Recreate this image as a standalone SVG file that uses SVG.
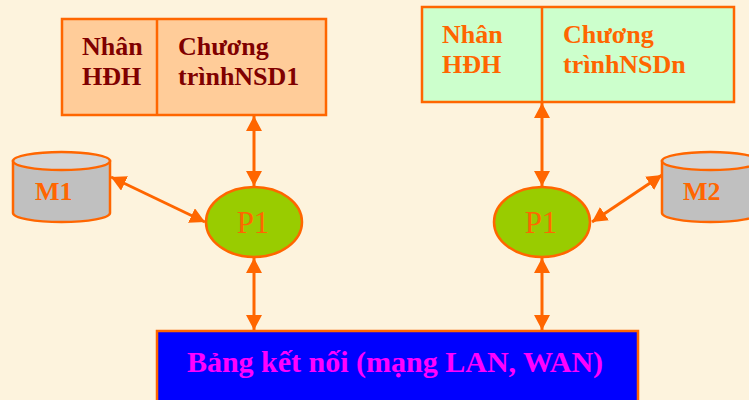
<svg xmlns="http://www.w3.org/2000/svg" width="749" height="400" viewBox="0 0 749 400">
  <style>
    .bx { stroke: #FF6600; stroke-width: 2.5; }
    .t { font-family: "Liberation Serif", "Times New Roman", serif; font-weight: bold; font-size: 26px; }
    .dark { fill: #800000; }
    .org { fill: #FF6600; }
    .cyl { fill: #C0C0C0; stroke: #FF6600; stroke-width: 2.5; }
    .cyltop { fill: #D4D4D4; stroke: #FF6600; stroke-width: 2.5; }
    .proc { fill: #99CC00; stroke: #FF6600; stroke-width: 2.5; }
    .pl { font-family: "Liberation Serif", "Times New Roman", serif; font-size: 31px; fill: #FF6600; }
    .conn { stroke: #FF6600; stroke-width: 3; fill: none; marker-start: url(#ah); marker-end: url(#ah); }
  </style>
  <defs>
    <marker id="ah" viewBox="0 0 15 16" refX="15" refY="8" markerWidth="15" markerHeight="16" orient="auto-start-reverse" markerUnits="userSpaceOnUse">
      <path d="M0,0 L15,8 L0,16 Z" fill="#FF6600"/>
    </marker>
  </defs>

  <rect width="749" height="400" fill="#FDF3DD"/>

  <g id="box-nsd1">
    <rect class="bx" x="62" y="19" width="264" height="96" fill="#FFCC99"/>
    <line class="bx" x1="157" y1="19" x2="157" y2="115"/>
    <text class="t dark" x="82" y="55">Nhân</text>
    <text class="t dark" x="82" y="85">HĐH</text>
    <text class="t dark" x="178" y="55">Chương</text>
    <text class="t dark" x="178" y="85">trìnhNSD1</text>
  </g>

  <g id="box-nsdn">
    <rect class="bx" x="422" y="7" width="312" height="95" fill="#CCFFCC"/>
    <line class="bx" x1="542" y1="7" x2="542" y2="102"/>
    <text class="t org" x="442" y="43">Nhân</text>
    <text class="t org" x="442" y="73">HĐH</text>
    <text class="t org" x="563" y="43">Chương</text>
    <text class="t org" x="563" y="73">trìnhNSDn</text>
  </g>

  <g id="m1">
    <path class="cyl" d="M13,161 L13,213 A48.5,9 0 0 0 110,213 L110,161 Z"/>
    <ellipse class="cyltop" cx="61.5" cy="161" rx="48.5" ry="9"/>
    <text class="t org" x="35" y="200">M1</text>
  </g>

  <g id="m2">
    <path class="cyl" d="M662,161 L662,213 A48.5,9 0 0 0 759,213 L759,161 Z"/>
    <ellipse class="cyltop" cx="710.5" cy="161" rx="48.5" ry="9"/>
    <text class="t org" x="683" y="200">M2</text>
  </g>

  <g id="p1-left">
    <ellipse class="proc" cx="254" cy="222" rx="48" ry="35"/>
    <text class="pl" x="253" y="233" text-anchor="middle">P1</text>
  </g>

  <g id="p1-right">
    <ellipse class="proc" cx="542" cy="222" rx="48" ry="35"/>
    <text class="pl" x="541" y="233" text-anchor="middle">P1</text>
  </g>

  <g id="network">
    <rect x="157" y="331" width="481" height="80" fill="#0000FF" stroke="#FF6600" stroke-width="2.5"/>
    <text x="395" y="372" text-anchor="middle" font-family="Liberation Serif, Times New Roman, serif" font-weight="bold" font-size="30" fill="#FF00FF">Bảng kết nối (mạng LAN, WAN)</text>
  </g>

  <g id="connectors">
    <line class="conn" x1="254" y1="116" x2="254" y2="186"/>
    <line class="conn" x1="254" y1="258" x2="254" y2="330"/>
    <line class="conn" x1="542" y1="103" x2="542" y2="186"/>
    <line class="conn" x1="542" y1="258" x2="542" y2="330"/>
    <line class="conn" x1="111" y1="177" x2="205" y2="222"/>
    <line class="conn" x1="662" y1="175" x2="592" y2="222"/>
  </g>
</svg>
